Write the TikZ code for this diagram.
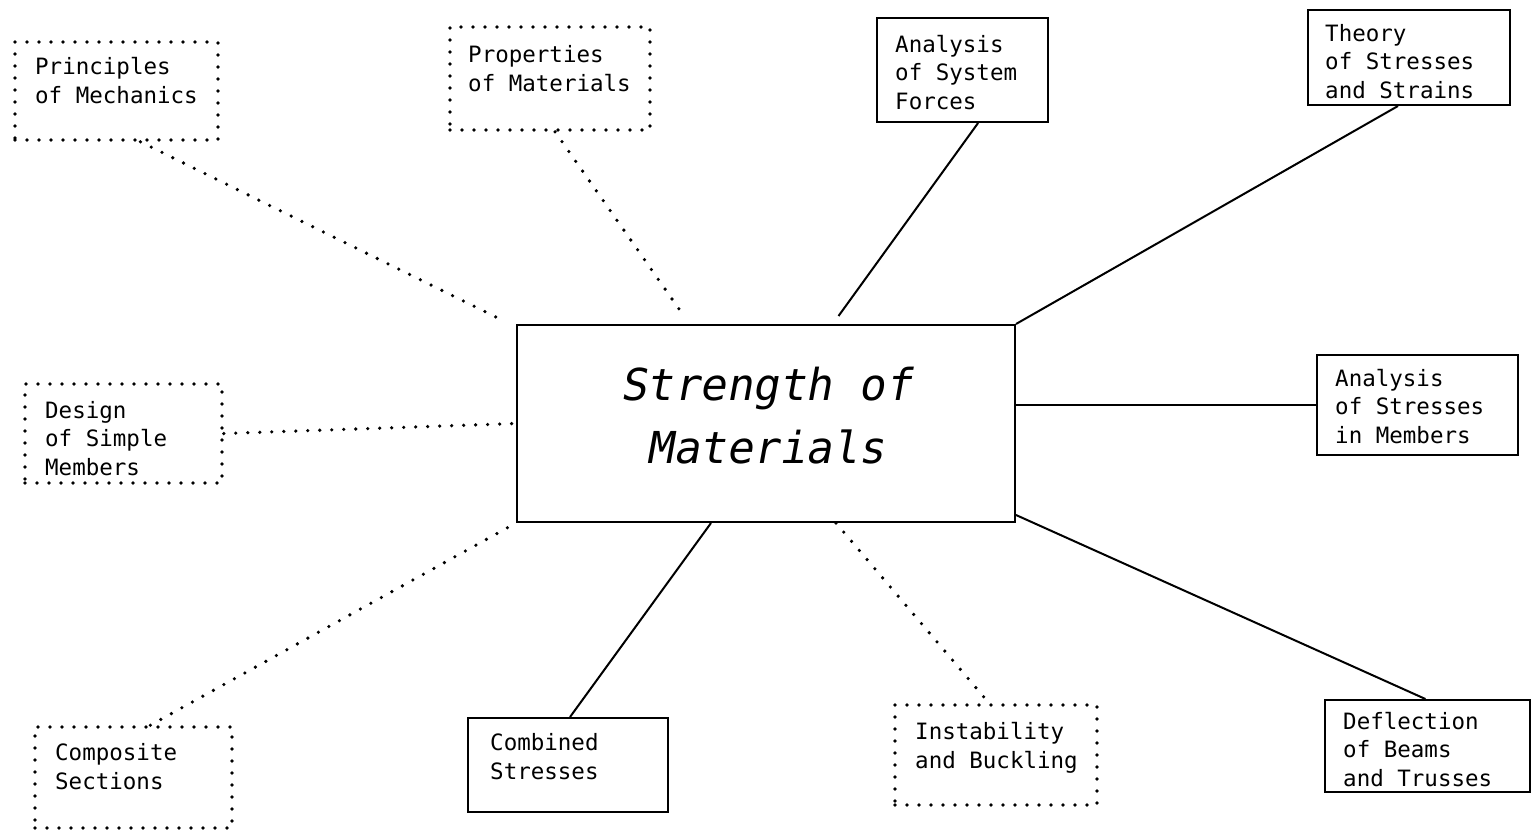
\documentclass[tikz,border=0pt]{standalone}
\usepackage{fontspec}
\setmainfont{DejaVu Sans Mono}
\newfontfamily\bigfont[FakeSlant=0.18]{DejaVu Sans Mono}
\usetikzlibrary{calc}
\tikzset{
  solidbox/.style={draw, line width=2pt, inner sep=0pt},
  dotbox/.style={draw, line width=3.6pt, line cap=round, dash pattern=on 0pt off 12pt, inner sep=0pt},
  solidline/.style={line width=2pt},
  dotline/.style={line width=3.6pt, line cap=round, dash pattern=on 0pt off 12pt},
  lbl/.style={anchor=base west, align=left, inner sep=0pt, font=\fontsize{22.5}{28.5}\selectfont},
  biglbl/.style={align=center, inner sep=0pt, font=\bigfont\fontsize{44}{63}\selectfont}
}
\begin{document}
\begin{tikzpicture}[x=1pt,y=-1pt]
\useasboundingbox[fill=white] (0,0) rectangle (1540,839);
% central box
\node[solidbox, minimum width=498, minimum height=197] (sm) at (766,423.5) {};
\node[biglbl] (smt) at (766,416) {Strength of\\Materials};
% outer boxes (label anchor = baseline of the last line)
\node[dotbox, minimum width=203, minimum height=98] (pm) at (116.5,91) {};
\node[lbl] (pmt) at (35,103) {Principles\\of Mechanics};
\node[dotbox, minimum width=200, minimum height=103] (pr) at (550,78.5) {};
\node[lbl] (prt) at (468,91) {Properties\\of Materials};
\node[solidbox, minimum width=171, minimum height=104] (asf) at (962.5,70) {};
\node[lbl] (asft) at (895,109) {Analysis\\of System\\Forces};
\node[solidbox, minimum width=202, minimum height=95] (th) at (1409,57.5) {};
\node[lbl] (tht) at (1325,98) {Theory\\of Stresses\\and Strains};
\node[dotbox, minimum width=197, minimum height=99] (ds) at (123.5,433.5) {};
\node[lbl] (dst) at (45,475) {Design\\of Simple\\Members};
\node[solidbox, minimum width=201, minimum height=100] (as) at (1417.5,405) {};
\node[lbl] (ast) at (1335,443) {Analysis\\of Stresses\\in Members};
\node[dotbox, minimum width=197, minimum height=101] (cs) at (133.5,777.5) {};
\node[lbl] (cst) at (55,789) {Composite\\Sections};
\node[solidbox, minimum width=200, minimum height=94] (cb) at (568,765) {};
\node[lbl] (cbt) at (490,779) {Combined\\Stresses};
\node[dotbox, minimum width=202, minimum height=100] (ib) at (996,755) {};
\node[lbl] (ibt) at (915,768) {Instability\\and Buckling};
\node[solidbox, minimum width=205, minimum height=92] (df) at (1427.5,746) {};
\node[lbl] (dft) at (1343,786) {Deflection\\of Beams\\and Trusses};
% connectors
\draw[dotline] ($(pm.south west)!0.616!(pm.south east)$) -- ([xshift=-12pt,yshift=3pt]sm.north west);
\draw[dotline] ($(pr.south west)!0.525!(pr.south east)$) -- ([yshift=10pt]$(sm.north west)!0.333!(sm.north east)$);
\draw[solidline] ($(asf.south west)!0.59!(asf.south east)$) -- ([yshift=8pt]$(sm.north west)!0.645!(sm.north east)$);
\draw[solidline] ($(th.south west)!0.446!(th.south east)$) -- (sm.north east);
\draw[dotline] (ds.east) -- (sm.west);
\draw[solidline] (sm.east |- as.west) -- (as.west);
\draw[dotline] ($(cs.north west)!0.584!(cs.north east)$) -- (sm.south west);
\draw[solidline] ($(cb.north west)!0.51!(cb.north east)$) -- ($(sm.south west)!0.39!(sm.south east)$);
\draw[dotline] ($(sm.south west)!0.64!(sm.south east)$) -- ([yshift=5pt]$(ib.north west)!0.446!(ib.north east)$);
\draw[solidline] ([yshift=8pt]sm.south east) -- ($(df.north west)!0.49!(df.north east)$);
\end{tikzpicture}
\end{document}
